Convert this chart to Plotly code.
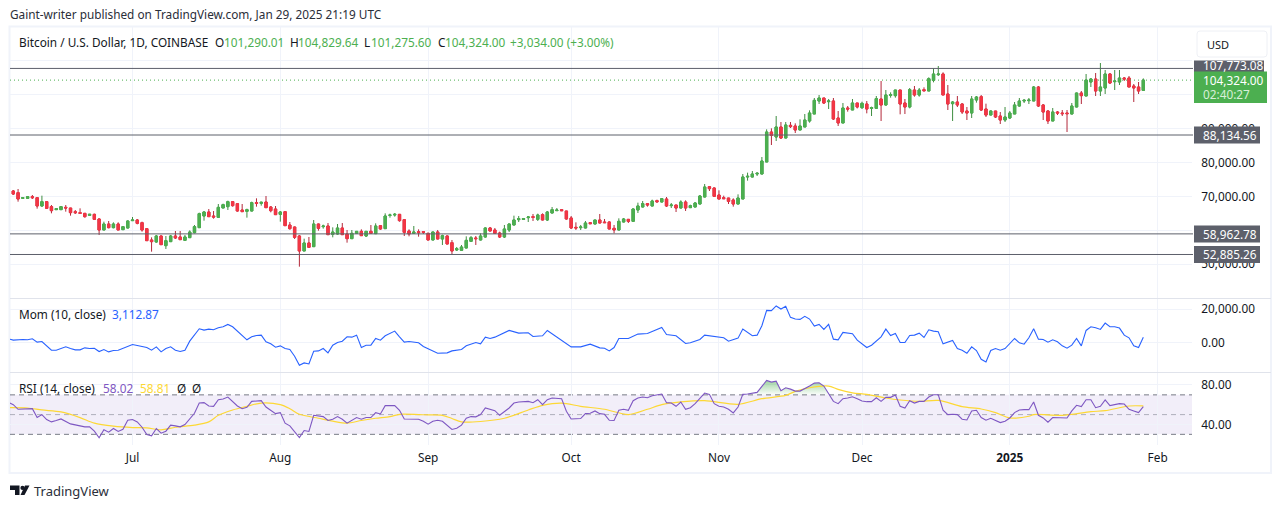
import pandas as pd
import plotly.graph_objects as go
from plotly.subplots import make_subplots

START = "2024-06-06"
open_ = [
71615,71123,69452,69452,69943,69648,67190,68468,66994,66109,
66109,66797,66600,65519,65224,65027,64437,64732,63355,60110,
61880,60799,61880,60208,60700,62864,63060,62274,60504,57161,
56571,58340,55489,56669,58340,58046,57062,57849,59324,60799,
64240,65420,64240,63847,66600,66994,68468,67879,66010,65617,
65715,68173,67977,68370,66895,66305,64732,65519,61585,60995,
58340,53916,56276,55194,61880,61094,61290,58832,58930,60700,
58930,57554,59127,59717,58340,59717,59029,61389,60504,64437,
64535,64732,63158,59815,59127,59619,59619,59127,57161,59521,
57456,58341,56374,54211,54113,54801,56767,57751,57161,58046,
60701,60111,59226,58046,60111,61586,63159,63257,63749,64044,
63257,64634,63061,65125,65814,66109,65716,63651,60899,60800,
60701,62274,61881,63061,62467,62467,60603,60111,62467,63257,
62667,66011,66895,67878,67191,68764,68370,69255,67289,67485,
66600,68370,66699,66895,67780,69845,72894,72500,70435,69648,
69550,68960,67780,69255,75745,75745,76630,76630,80170,89019,
87545,90495,87250,90986,90790,89610,90495,92265,94329,98164,
99049,97967,98164,93150,91675,96099,95509,97574,96198,97279,
96001,96001,98754,96985,99836,99738,101409,97574,96394,101409,
99934,101508,101114,104261,105932,106129,100229,97378,97870,97279,
95215,94624,98459,99443,95804,94034,95215,93740,92560,93150,
94329,96689,98164,98263,98164,102294,96985,95215,92265,94920,
94624,94624,94329,96394,100524,99639,103769,104654,101114,102000,
106129,103868,103769,104949,104949,102589,102294,101290.01]
high = [
71910,72205,69747,70042,70435,69648,70238,68665,67485,66502,
67190,67485,66600,66010,66502,65027,64830,64929,63552,62569,
62765,62372,62372,61192,62962,63945,63355,62569,60602,57947,
58636,58537,58340,58636,59815,59815,58636,60012,61585,65224,
65715,66305,65715,67780,67879,68764,68665,68075,67780,66404,
68468,69452,68468,70140,67190,67190,65715,65617,62470,61094,
58636,57554,58046,63060,61978,61684,62175,60897,61880,62175,
60110,60110,59717,60307,59815,61585,62077,61585,65027,64929,
65125,64830,63257,60307,61290,60307,59815,59324,59600,60111,
58734,58537,57161,55096,55686,58242,58341,58341,59127,60899,
60997,60701,59619,61586,61979,64339,64241,63651,64241,64831,
64929,65028,65716,66895,66600,66305,65716,64241,62372,61586,
62766,62467,63061,64831,63356,62667,61586,63552,63651,63257,
66502,68174,68665,68075,69059,69059,69550,69845,68075,67485,
68862,68862,67584,68370,70435,73681,73091,72697,71812,70238,
69550,69452,70632,76630,77024,77515,77220,81645,89806,90101,
93740,91970,91970,91970,91577,92757,94329,95411,99049,99934,
99049,98754,99049,95214,97574,96689,98754,97574,97968,98164,
96493,99639,104064,101409,100721,101409,101409,98754,101999,102589,
101999,102196,105146,107801,108489,106621,102884,98164,99639,97575,
96394,99639,99639,99934,97378,95411,95215,94920,96394,95215,
97870,99049,98754,99049,102589,102589,97279,95510,96099,95215,
95510,95510,97575,100623,101114,106129,104949,106424,109374,107309,
106424,107309,107309,105244,105539,103179,103769,104829.64]
low = [
70435,68468,69354,69354,69255,66404,66994,66305,65027,66010,
66010,65519,64339,64830,65027,63749,64339,63060,58636,60110,
60602,60602,60110,60110,60602,62864,61782,59619,56866,53719,
56374,55686,54506,56571,57456,57161,56866,57751,59127,60700,
62864,63945,63454,63650,66600,66010,66994,65519,65519,63749,
65617,66994,67289,66600,65322,64535,62569,61290,60208,57456,
49294,53916,54800,55194,59914,60504,58636,57947,58734,58636,
56374,57456,59029,58340,58046,59029,58930,60208,60405,63749,
64044,62569,58340,58242,58930,58144,58930,57062,57100,57357,
55686,55882,52933,53917,54014,54703,56571,55686,57062,57849,
59717,59029,57751,57751,59521,61488,62467,63061,62467,62766,
62766,62962,62766,65028,65716,65716,63159,60406,60111,60111,
60603,61881,61783,62077,62176,60308,59127,60013,62372,62176,
62667,65125,66797,66994,67092,68075,68272,66895,66600,65420,
66502,65716,66600,66797,67682,69747,71615,69845,69157,69255,
67780,66994,67682,69255,74663,75647,76040,76532,80170,85185,
86365,86955,87152,90199,88725,89610,90495,91773,94329,97279,
97279,95804,92560,90790,91675,95018,95509,95968,95804,94526,
93740,95804,92265,96788,99148,99148,94231,94329,96001,99443,
99443,100918,101114,103671,105539,99934,95510,92265,96394,94329,
92560,93150,97673,95215,93445,93936,93150,91380,91970,92855,
94329,96493,97575,97279,98164,96394,92560,91380,92265,94034,
93740,89020,94231,96296,97279,99639,102294,99639,99639,100229,
103179,101409,102884,104064,102294,97870,100229,101275.6]
close = [
70730,69255,69648,69943,69648,67190,68468,66502,65814,66404,
66994,66600,65224,65224,65027,64044,64732,63257,60110,61880,
60799,61880,60110,61094,62765,63060,62077,60110,56964,56669,
58340,55784,56964,58340,57751,57259,58046,59520,61094,64929,
65420,64044,63945,66797,67584,68468,67289,65715,65519,66109,
68173,67977,68272,66699,65814,64634,65420,61389,60504,57947,
53916,56276,54997,61880,60602,61290,58734,59520,60700,58734,
57554,59127,59717,58439,59717,59127,61290,60405,64240,64535,
64732,62864,59422,58930,59520,59324,59422,57161,59521,57456,
58439,55981,53917,54605,55096,57062,57849,57554,58341,60701,
59816,59127,58046,60406,61881,63061,63454,63454,63946,63847,
64536,63061,65420,66109,66010,65814,63356,60701,60701,60997,
62176,61979,63061,62176,62274,60406,60111,62667,63356,62667,
66305,67191,67878,67485,68665,68468,69353,67191,67485,66600,
68370,66600,67289,68075,70140,72795,72303,70042,69255,69353,
68567,67780,69550,75745,75942,76630,76827,80465,89019,88036,
90495,87250,91085,90593,89610,90790,92560,94625,98361,99049,
97574,98164,92855,91675,96099,95804,97574,96395,97476,95804,
96198,98853,96985,99934,100033,101409,97279,96394,101508,99934,
101409,101213,104753,106129,106129,99934,97279,97870,96985,94920,
94624,98754,99345,95510,94034,95215,93445,92560,93445,94624,
96985,98164,98361,98459,102294,96689,94920,92265,94920,94624,
94428,94428,96689,100524,99738,104359,104654,101114,102294,106129,
103474,104064,104949,104654,102294,102000,101114,104324]

mom_days = [-1,0,2,3,4,5,6,7,8,9,11,12,13,14,15,16,17,18,19,20,21,22,23,25,26,28,29,30,31,32,33,34,35,36,37,38,39,40,41,42,43,44,45,46,47,48,49,50,51,52,53,54,55,56,57,58,59,60,61,62,63,64,65,66,67,68,69,70,71,72,73,74,75,76,77,78,80,81,82,83,85,86,87,
89,91,92,94,95,97,98,99,100,101,104,106,108,109,111,112,114,115,117,119,121,123,124,125,126,127,129,131,133,136,137,139,141,142,144,145,149,150,152,153,155,156,157,158,159,160,161,162,163,164,165,166,167,168,169,170,171,172,173,174,176,177,
179,180,182,183,184,185,186,187,188,189,190,191,192,193,194,195,197,198,199,200,201,202,203,204,205,206,207,208,210,211,212,213,214,215,216,217,218,219,220,221,222,223,224,225,226,227,228,229,230,231,232,233,234,235,236,237]
mom_vals = [2200,1400,1800,1600,2200,200,600,-2200,-4600,-4600,-2600,-3600,-4400,-4400,-3200,-3600,-3400,-5400,-4200,-5600,-4800,-4600,-3600,-1200,-1800,-3000,-4600,-2600,-5600,-3600,-2600,-4600,-5400,-4600,800,4400,8200,7400,8000,7600,8800,9400,10800,9400,6800,4800,1600,3400,4200,4400,400,-800,-2800,-2000,-3600,-4200,-8200,-13600,-12200,-12800,-5200,-5000,-3600,-6200,-1600,0,800,3400,3200,4400,-3000,-1600,-1600,2400,1400,4000,6800,3400,200,600,-200,-2400,-3600,
-6400,-6200,-5000,-4200,-2000,0,-800,3200,2400,3200,7200,5600,5800,3600,4000,7200,3400,1400,-2600,-2600,-1000,-3200,-3400,-5000,-3000,2400,2400,5000,5400,9000,4800,4000,-600,-200,1800,4400,2800,800,2600,8000,4000,4400,10000,19200,19000,21800,20000,21600,15000,14000,13800,15600,14000,9800,10800,7800,10800,2000,1600,6000,5200,1400,
-3000,-1600,3400,8000,4200,5400,0,0,4200,4400,5600,3000,7600,6800,6400,-800,1200,-3600,-4600,-6400,-2600,-4800,-10000,-11600,-4800,-3600,-4600,-3600,2400,-200,-1000,2800,8200,2000,1800,200,1600,400,-2000,-3400,-1600,2400,-2000,7200,9400,8800,7800,11600,9400,9400,8600,4400,2800,-2000,-3000,3112.87]

rsi_days = [-1,0,1,2,4,5,6,7,8,9,10,12,13,14,15,16,17,18,19,20,21,22,23,24,25,26,27,28,29,30,31,32,33,34,35,36,37,38,39,40,41,42,43,44,45,46,47,48,49,50,51,52,53,54,55,56,57,58,59,60,61,62,63,64,65,66,67,68,69,70,71,72,73,74,75,76,77,78,80,81,82,83,84,85,86,87,
88,89,90,91,92,93,94,95,96,97,98,99,101,102,104,105,106,108,109,110,111,112,113,115,116,117,119,120,121,122,123,124,125,126,127,128,129,130,131,132,133,134,136,137,138,139,140,141,142,143,145,146,147,148,149,150,151,152,153,154,155,156,157,158,159,160,161,162,163,164,165,166,167,168,169,170,171,172,173,174,175,176,177,
178,179,180,181,182,183,184,185,186,187,188,189,190,191,192,193,194,195,196,197,198,199,200,201,202,203,204,205,206,207,208,209,210,211,212,213,214,215,216,217,218,219,220,221,222,223,224,225,226,227,228,229,230,231,232,233,234,235,236,237]
rsi_vals = [62.4,60.1,55.4,55.4,56.0,47.0,50.0,45.0,42.6,44.0,45.6,40.6,39.6,39.3,37.6,37.6,33.2,26.5,34.6,32.2,35.9,32.9,35.2,44.3,45.0,42.6,37.2,29.9,28.5,35.9,31.2,33.2,39.3,38.6,37.6,39.9,45.3,51.3,61.7,62.1,58.7,58.4,65.1,65.8,67.8,63.4,58.7,56.0,57.4,63.4,63.8,64.1,57.7,54.4,51.0,52.0,41.3,38.6,33.2,26.8,33.9,32.9,49.3,48.7,48.0,44.0,45.3,48.0,45.3,41.3,44.3,47.0,45.3,47.0,47.0,52.0,50.7,59.1,59.1,54.4,45.6,45.3,45.6,45.3,43.3,40.3,
43.3,44.3,43.3,39.3,34.9,36.2,39.3,46.3,48.0,47.7,50.0,56.7,54.0,49.3,56.7,61.7,62.8,63.4,62.1,65.1,60.1,65.1,66.8,66.1,53.4,45.6,46.0,51.0,51.3,53.7,51.0,50.3,44.3,44.0,54.4,55.4,54.4,64.1,66.8,67.8,67.1,69.1,70.8,62.1,61.7,58.4,62.8,55.4,57.0,61.1,71.8,70.5,61.1,58.4,57.7,55.4,51.7,57.7,70.5,70.8,71.8,72.5,78.5,84.6,82.9,83.9,74.2,77.2,75.8,73.8,73.8,76.2,78.9,81.9,82.2,78.9,71.1,63.4,61.1,66.1,66.8,68.1,66.1,
63.8,63.1,63.1,67.1,63.4,67.5,67.5,69.8,58.4,56.7,64.1,61.7,63.4,63.4,67.8,70.1,70.1,54.4,50.0,50.3,50.0,45.3,44.6,53.7,54.4,47.0,44.3,46.3,44.0,41.9,43.3,46.6,52.0,54.7,55.0,55.0,62.8,49.3,46.6,42.3,47.0,47.0,47.0,46.6,53.7,59.4,58.1,65.1,65.1,57.0,58.4,64.8,59.1,60.1,61.1,60.7,55.4,53.7,52.0,58.02]

ma_days = [-1,3,6,10,14,17,21,25,28,31,34,38,41,43,46,49,52,56,58,60,64,67,70,73,76,79,81,85,87,90,92,94,98,103,108,111,115,119,124,129,133,136,140,145,152,157,162,164,167,171,173,176,179,183,186,190,194,199,203,206,209,213,214,220,226,229,234,237]
ma_vals = [57.0,56.7,54.7,52.7,47.0,41.3,38.3,36.9,36.6,34.6,37.2,39.3,42.6,49.3,54.7,58.4,61.7,60.1,56.0,50.3,46.3,43.3,41.3,44.0,46.3,48.0,50.3,50.0,49.7,49.3,46.0,42.6,43.0,46.3,54.7,59.4,61.7,58.4,55.4,50.0,55.4,60.1,62.8,64.1,60.4,66.1,69.5,73.5,77.2,78.9,75.5,72.1,70.5,66.8,64.8,63.4,64.4,58.1,55.7,52.0,46.6,48.3,50.0,49.3,53.0,54.0,58.7,58.81]

level_values = [107773.08, 88134.56, 58962.78, 52885.26]
level_labels = ["107,773.08", "88,134.56", "58,962.78", "52,885.26"]
last_price = 104324.00
price_ticks = [50000, 60000, 70000, 80000, 90000, 100000, 110000]
price_tick_labels = ["50,000.00", "60,000.00", "70,000.00", "80,000.00", "90,000.00", "100,000.00", ""]
mom_ticks = [0, 20000]
rsi_ticks = [40, 80]
month_ticks = ["2024-07-01", "2024-08-01", "2024-09-01", "2024-10-01", "2024-11-01", "2024-12-01", "2025-01-01", "2025-02-01"]
month_labels = ["Jul", "Aug", "Sep", "Oct", "Nov", "Dec", "<b>2025</b>", "Feb"]

GREEN, RED = "#4CAF50", "#F23645"
GREEN_WICK, RED_WICK = "#3E8E41", "#B3283A"
INK = "#131722"
GRID = "#F0F3FA"
W, H = 1281, 508
FONT = "Noto Sans"
TS = 11.8
def px(x): return x / W
def py(y): return 1 - y / H

start = pd.Timestamp(START)
def day(i): return start + pd.to_timedelta(i, unit="D")
dates = [day(i) for i in range(len(close))]

fig = make_subplots(rows=3, cols=1, shared_xaxes=True, vertical_spacing=0)
fig.add_trace(go.Candlestick(x=dates, open=open_, high=high, low=low, close=close,
    increasing=dict(line=dict(color=GREEN_WICK, width=1), fillcolor=GREEN),
    decreasing=dict(line=dict(color=RED_WICK, width=1), fillcolor=RED),
    whiskerwidth=0, showlegend=False), row=1, col=1)
fig.add_trace(go.Candlestick(x=dates, open=open_, close=close,
    high=[max(a, b) for a, b in zip(open_, close)], low=[min(a, b) for a, b in zip(open_, close)],
    increasing=dict(line=dict(color=GREEN, width=1), fillcolor=GREEN),
    decreasing=dict(line=dict(color=RED, width=1), fillcolor=RED),
    whiskerwidth=0, showlegend=False), row=1, col=1)
fig.add_trace(go.Scatter(x=[day(i) for i in mom_days], y=mom_vals, mode="lines",
    line=dict(color="#2962FF", width=1.1), showlegend=False), row=2, col=1)

ob = [(d, v) for d, v in zip(rsi_days, rsi_vals) if 155 <= d <= 172]
fig.add_trace(go.Scatter(x=[day(d) for d, _ in ob], y=[70] * len(ob), mode="lines",
    line=dict(width=0), showlegend=False), row=3, col=1)
fig.add_trace(go.Scatter(x=[day(d) for d, _ in ob], y=[max(v, 70) for _, v in ob], mode="lines",
    line=dict(width=0), fill="tonexty", fillcolor="rgba(76,175,80,0.35)",
    fillgradient=dict(type="vertical", colorscale=[[0, "rgba(76,175,80,0.02)"], [1, "rgba(76,175,80,0.55)"]]),
    showlegend=False), row=3, col=1)
fig.add_trace(go.Scatter(x=[day(i) for i in ma_days], y=ma_vals, mode="lines",
    line=dict(color="#FDD835", width=1.2, shape="spline", smoothing=0.8), showlegend=False), row=3, col=1)
fig.add_trace(go.Scatter(x=[day(i) for i in rsi_days], y=rsi_vals, mode="lines",
    line=dict(color="#7E57C2", width=1.1), showlegend=False), row=3, col=1)

x_left, x_right = 10, 1192
SPACING = 4.768
first_x = 13.3
x0 = day((x_left - first_x) / SPACING)
x1 = day((x_right - first_x) / SPACING)
tick_font = dict(family=FONT, size=TS, color=INK)
xcommon = dict(range=[x0, x1], type="date", tickmode="array", tickvals=month_ticks, ticktext=month_labels,
    showgrid=True, gridcolor=GRID, gridwidth=1, zeroline=False, showline=False, ticks="", domain=[px(x_left), px(x_right)],
    rangeslider=dict(visible=False), tickfont=tick_font)
fig.update_layout(xaxis=dict(xcommon, showticklabels=False), xaxis2=dict(xcommon, showticklabels=False), xaxis3=dict(xcommon, ticklabelstandoff=4))
ycommon = dict(side="right", showgrid=True, gridcolor=GRID, gridwidth=1, zeroline=False, showline=False,
    tickfont=tick_font, tickformat=",.2f", ticks="outside", ticklen=6, tickcolor="rgba(0,0,0,0)", tickmode="array")
fig.update_layout(
    yaxis=dict(ycommon, domain=[py(298), py(27)], range=[40049, 119994], tickvals=price_ticks, ticktext=price_tick_labels),
    yaxis2=dict(ycommon, domain=[py(372), py(299)], range=[-17612, 25970], tickvals=mom_ticks),
    yaxis3=dict(ycommon, domain=[py(445), py(373)], range=[19.2, 92.15], tickvals=rsi_ticks),
)

shapes = []
def rect(x0_, y0_, x1_, y1_, fill, line=None, lw=0):
    shapes.append(dict(type="rect", xref="paper", yref="paper", x0=px(x0_), x1=px(x1_), y0=py(y0_), y1=py(y1_),
        fillcolor=fill, line=dict(color=line or fill, width=lw), layer="above"))
def hline(y0_, y1_, x0_, x1_, color, width=1, dash="solid", layer="above"):
    shapes.append(dict(type="line", xref="paper", yref="paper", x0=px(x0_), x1=px(x1_), y0=py(y0_), y1=py(y1_),
        line=dict(color=color, width=width, dash=dash), layer=layer))

# frame
shapes.append(dict(type="rect", xref="paper", yref="paper", x0=px(9.5), x1=px(1271), y0=py(26.5), y1=py(473),
    line=dict(color=GRID, width=2), layer="below"))
hline(298.5, 298.5, 10, 1271, "#E0E3EB")
hline(372.5, 372.5, 10, 1271, "#E0E3EB")
# RSI band
shapes.append(dict(type="rect", xref="paper", yref="y3", x0=px(x_left), x1=px(x_right), y0=30, y1=70,
    fillcolor="rgba(126,87,194,0.1)", line=dict(width=0), layer="below"))
for lvl, col in [(70, "#787B86"), (50, "rgba(120,123,134,0.55)"), (30, "#787B86")]:
    shapes.append(dict(type="line", xref="paper", yref="y3", x0=px(x_left), x1=px(x_right), y0=lvl, y1=lvl,
        line=dict(color=col, width=1, dash="5px,4px"), layer="below"))
# levels
for v in level_values:
    shapes.append(dict(type="line", xref="paper", yref="y", x0=px(x_left), x1=px(x_right + 1), y0=v, y1=v,
        line=dict(color="#5D606B", width=1), layer="above"))
shapes.append(dict(type="line", xref="paper", yref="y", x0=px(x_left), x1=px(x_right), y0=last_price, y1=last_price,
    line=dict(color=GREEN, width=1, dash="1px,3px"), layer="above"))

annotations = []
def text(x, y, s, color=INK, size=TS, anchor="left", fam=FONT):
    annotations.append(dict(xref="paper", yref="paper", x=px(x), y=py(y), text=s, showarrow=False,
        xanchor=anchor, yanchor="middle", align="left", borderpad=0, font=dict(family=fam, size=size, color=color)))

# price labels over the axis
LAB = "#5D606B"
def price_y(v): return 135 + (88134.56 - v) / 295
for v, s in zip(level_values, level_labels):
    yc = price_y(v)
    if v > 100000:
        rect(1194, 60.5, 1264, yc + 8.5, LAB)
        text(1202, 64.5, s, "#FFFFFF", TS)
    else:
        rect(1194, yc - 8.5, 1260, yc + 8.5, LAB)
        text(1202, yc, s, "#FFFFFF", TS)
yc = price_y(last_price)
rect(1194, yc - 8.5, 1267, yc + 23, GREEN)
text(1202, yc - 0.5, "104,324.00", "#FFFFFF", TS)
text(1202, yc + 14, "02:40:27", "#D8EFD9", TS)

# USD button
shapes.append(dict(type="path", xref="paper", yref="paper", layer="above", fillcolor="#FFFFFF",
    line=dict(color="#EEF0F5", width=1),
    path=f"M {px(1200)} {py(31)} L {px(1264)} {py(31)} Q {px(1267)} {py(31)} {px(1267)} {py(34)} L {px(1267)} {py(54)} Q {px(1267)} {py(57)} {px(1264)} {py(57)} L {px(1200)} {py(57)} Q {px(1197)} {py(57)} {px(1197)} {py(54)} L {px(1197)} {py(34)} Q {px(1197)} {py(31)} {px(1200)} {py(31)} Z"))
text(1206, 44.5, "USD", INK, 11)

text(9, 14.5, "Gaint-writer published on TradingView.com, Jan 29, 2025 21:19 UTC", "#2A2E39", TS)
text(18, 42, "Bitcoin / U.S. Dollar, 1D, COINBASE", INK, TS)
LEG = "#4CAF50"
for x, lab, vx, val in [(214, "O", 223, "101,290.01"), (288.5, "H", 297, "104,829.64"), (363, "L", 370, "101,275.60"), (437, "C", 444, "104,324.00")]:
    text(x, 42, lab, INK, TS)
    text(vx, 42, val, LEG, TS)
text(509, 42, "+3,034.00 (+3.00%)", LEG, TS)
text(18, 314, "Mom (10, close)", INK, TS)
text(111, 314, "3,112.87", "#2962FF", TS)
text(18, 388, "RSI (14, close)", INK, TS)
text(102, 388, "58.02", "#7E57C2", TS)
text(138.5, 388, "58.81", "#FDD835", TS)
text(176, 388, "Ø", INK, TS)
text(191, 388, "Ø", INK, TS)
text(33, 491, "TradingView", "#2A2E39", 13)

# TradingView mark
def poly(points):
    return "M " + " L ".join(f"{px(a)} {py(b)}" for a, b in points) + " Z"
LOGO = "#131722"
for pts in [[(10, 485.5), (19.5, 485.5), (19.5, 495), (15, 495), (15, 490), (10, 490)],
            [(24.5, 495), (20.5, 495), (25, 485.5), (29.5, 485.5)]]:
    shapes.append(dict(type="path", xref="paper", yref="paper", layer="above", fillcolor=LOGO, line=dict(width=0), path=poly(pts)))
shapes.append(dict(type="circle", xref="paper", yref="paper", layer="above", fillcolor=LOGO, line=dict(width=0),
    x0=px(20.4), x1=px(24.6), y0=py(490), y1=py(485.8)))

fig.update_layout(width=W, height=H, margin=dict(l=0, r=0, t=0, b=0), paper_bgcolor="#FFFFFF", plot_bgcolor="#FFFFFF",
    showlegend=False, shapes=shapes, annotations=annotations, font=dict(family=FONT, color=INK), hovermode=False)
fig.write_html("out.html", config=dict(displayModeBar=False),
    post_script="document.body.style.margin='0';document.body.style.overflow='hidden';")
